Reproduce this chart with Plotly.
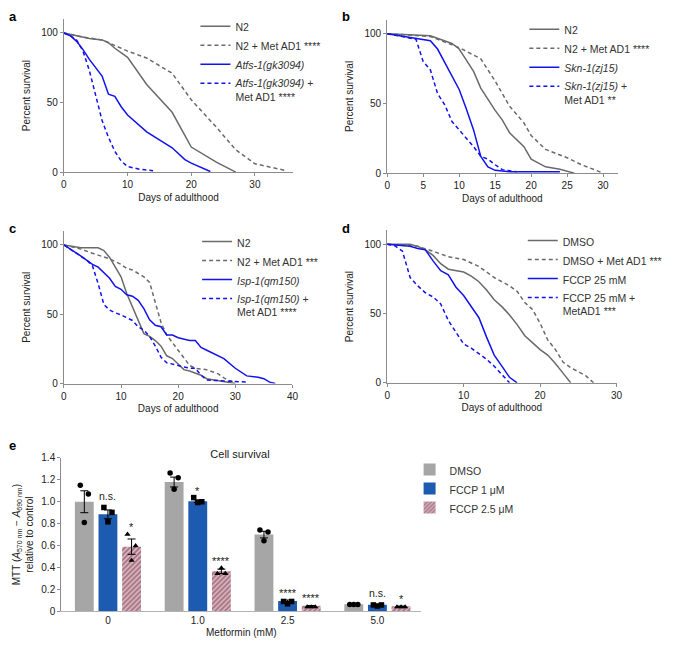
import plotly.graph_objects as go

FONT = "Liberation Sans, Arial, Helvetica, sans-serif"
GRAY = "#6a6a6a"
BLUE = "#1212ee"
AXIS = "#8c8c8c"
TXT = "#222222"
W, H = 685, 652

# ---------------- data: panel a ----------------
a_n2_days = [0, 2, 4, 6, 7, 8, 10, 13, 17, 20, 24, 27]
a_n2 = [100, 98, 96, 95, 93, 89, 82.5, 63, 43, 18, 7, 0]
a_n2met_days = [0, 3, 6, 7, 10, 13, 17, 20, 24, 27, 30, 35]
a_n2met = [100, 97, 95, 93, 87, 82, 71, 52, 32, 16, 6, 1]
a_atfs_days = [0, 1, 2, 3, 4, 5, 6, 7, 8, 9, 10, 13, 16, 17, 19, 20, 23]
a_atfs = [100, 98, 94, 88, 81, 75, 69, 56, 54.5, 47, 41, 29, 20, 17.5, 9, 6.5, 0.5]
a_atfsmet_days = [0, 1, 2, 3, 4, 5, 6, 7, 8, 9, 10, 11, 12, 14]
a_atfsmet = [100, 98, 95, 87, 73, 55, 37, 25, 15, 8, 4, 3, 2, 1]

# ---------------- data: panel b ----------------
b_n2_days = [0, 6, 9, 10, 11, 12, 13, 15, 16, 17, 19, 20, 22, 24, 26]
b_n2 = [100, 98.5, 93, 89, 81, 73, 61, 45, 38, 29, 19, 10, 4.5, 2.7, 0]
b_n2met_days = [0, 6, 9, 10, 13, 15, 17, 19, 20, 22, 25, 27, 30]
b_n2met = [100, 98, 92, 90, 82, 66, 48, 36, 27, 17, 11, 6, 0]
b_skn_days = [0, 4, 6, 7, 8, 9, 10, 11, 12, 13, 14, 15, 17, 24]
b_skn = [100, 97, 95, 89, 79, 70, 60, 46, 31, 12, 4.5, 2, 1, 1]
b_sknmet_days = [0, 4, 5, 6, 7, 8, 9, 10, 11, 12, 13, 14, 15, 16, 18]
b_sknmet = [100, 96, 80, 74, 57, 49, 37, 31, 25, 19, 12, 10, 6, 2.5, 1]

# ---------------- data: panel c ----------------
c_n2_days = [0, 3, 6, 7, 8, 10, 11, 12, 13, 14, 15, 16, 17, 18, 19, 20, 21, 22, 24, 25, 27, 30]
c_n2 = [100, 98, 98, 96, 91, 77, 65, 55, 45, 36, 34, 31, 27, 20, 18, 14, 10, 9, 6, 3.5, 2, 0]
c_n2met_days = [0, 3, 5, 8, 10, 11, 12, 14, 15, 16, 17, 18, 20, 21, 22, 23, 25, 27, 28, 29, 30]
c_n2met = [100, 97, 94, 90, 86, 83, 82, 77, 73, 58, 44, 35, 24, 18, 13, 11, 10, 7, 4, 2, 1]
c_isp_days = [0, 3, 5, 6, 8, 9, 10, 11, 12, 13, 14, 15, 16, 17, 18, 19, 20, 22, 23, 24, 25,
              27, 28, 30, 31, 32, 34, 35, 36, 37]
c_isp = [100, 92, 86, 84, 76, 70, 68, 64, 63, 60, 54, 46, 42, 41, 35, 35, 33, 31, 31, 26, 24,
         20, 18, 11, 8, 5.5, 4.5, 3.5, 1, 0]
c_ispmet_days = [0, 3, 4, 5, 6, 7, 8, 9, 10, 12, 13, 14, 15, 16, 17, 18, 20, 22, 23, 24, 25,
                 27, 30, 32]
c_ispmet = [100, 92, 89, 85, 72, 57, 53, 51, 49.5, 45.5, 41, 38.5, 34, 27, 19, 15, 13, 11, 11,
            6, 2.5, 2, 1, 1]

# ---------------- data: panel d ----------------
d_dmso_days = [0, 3, 4, 5, 6, 7, 8, 9, 10, 11, 12, 13, 14, 15, 16, 17, 18, 19, 20, 21, 22, 23, 24]
d_dmso = [100, 100, 98.5, 96, 92, 86, 82, 81, 80, 77, 73, 67, 60, 55, 49, 42, 34, 29, 24, 20, 14, 7, 0]
d_dmsomet_days = [0, 4, 6, 8, 10, 12, 14, 16, 17, 18, 19, 20, 21, 22, 23, 24, 25, 26, 27]
d_dmsomet = [100, 98.5, 95, 91, 89, 84, 76, 70, 66, 58, 53, 43, 31, 24, 15, 11, 8, 5, 0]
d_fccp_days = [0, 2, 3, 4, 5, 6, 7, 8, 9, 10, 11, 12, 13, 14, 15, 16, 17]
d_fccp = [100, 99, 98.5, 97, 96, 88, 81, 78, 69, 63, 55, 47, 33, 20, 12, 4, 0]
d_fccpmet_days = [0, 1, 2, 3, 4, 5, 6, 7, 8, 9, 10, 11, 12, 13, 14, 15, 16]
d_fccpmet = [100, 99, 95, 76, 70, 65, 62, 57, 45, 36, 28, 25, 21, 17, 12, 6, 0]

# ---------------- data: panel e ----------------
e_categories = ["0", "1.0", "2.5", "5.0"]
e_dmso = [1.0, 1.18, 0.70, 0.065]
e_dmso_err = [0.10, 0.045, 0.03, 0.003]
e_dmso_reps = [[1.15, 1.07, 0.81], [1.262, 1.22, 1.113], [0.742, 0.724, 0.643], [0.062, 0.062, 0.062]]
e_fccp1 = [0.885, 1.005, 0.095, 0.06]
e_fccp1_err = [0.04, 0.012, 0.008, 0.004]
e_fccp1_reps = [[0.948, 0.903, 0.817], [1.038, 1.0, 0.993], [0.09, 0.09, 0.069], [0.058, 0.058, 0.048]]
e_fccp25 = [0.59, 0.365, 0.05, 0.045]
e_fccp25_err = [0.07, 0.02, 0.003, 0.003]
e_fccp25_reps = [[0.703, 0.598, 0.464], [0.344, 0.344, 0.395], [0.04, 0.04, 0.04], [0.04, 0.04, 0.04]]
e_sig_fccp1 = ["n.s.", "*", "****", "n.s."]
e_sig_fccp25 = ["*", "****", "****", "*"]

fig = go.Figure()


def line(x, y, name, color, dash, n, grp):
    xa = "x" if n == 1 else f"x{n}"
    ya = "y" if n == 1 else f"y{n}"
    lg = "legend" if n == 1 else f"legend{n}"
    fig.add_trace(go.Scatter(
        x=x, y=y, name=name, mode="lines",
        line=dict(color=color, width=1.5, dash=dash),
        xaxis=xa, yaxis=ya, legend=lg, legendgroup=f"g{n}_{grp}",
        hoverinfo="skip"))


DASH = "4px,3px"
line(a_n2_days, a_n2, "N2", GRAY, "solid", 1, 1)
line(a_n2met_days, a_n2met, "N2 + Met AD1 ****", GRAY, DASH, 1, 2)
line(a_atfs_days, a_atfs, "<i>Atfs-1(gk3094)</i>", BLUE, "solid", 1, 3)
line(a_atfsmet_days, a_atfsmet, "<i>Atfs-1(gk3094)</i> +<br>Met AD1 ****", BLUE, DASH, 1, 4)

line(b_n2_days, b_n2, "N2", GRAY, "solid", 2, 1)
line(b_n2met_days, b_n2met, "N2 + Met AD1 ****", GRAY, DASH, 2, 2)
line(b_skn_days, b_skn, "<i>Skn-1(zj15)</i>", BLUE, "solid", 2, 3)
line(b_sknmet_days, b_sknmet, "<i>Skn-1(zj15)</i> +<br>Met AD1 **", BLUE, DASH, 2, 4)

line(c_n2_days, c_n2, "N2", GRAY, "solid", 3, 1)
line(c_n2met_days, c_n2met, "N2 + Met AD1 ***", GRAY, DASH, 3, 2)
line(c_isp_days, c_isp, "<i>Isp-1(qm150)</i>", BLUE, "solid", 3, 3)
line(c_ispmet_days, c_ispmet, "<i>Isp-1(qm150)</i> +<br>Met AD1 ****", BLUE, DASH, 3, 4)

line(d_dmso_days, d_dmso, "DMSO", GRAY, "solid", 4, 1)
line(d_dmsomet_days, d_dmsomet, "DMSO + Met AD1 ***", GRAY, DASH, 4, 2)
line(d_fccp_days, d_fccp, "FCCP 25 mM", BLUE, "solid", 4, 3)
line(d_fccpmet_days, d_fccpmet, "FCCP 25 mM +<br>MetAD1 ***", BLUE, DASH, 4, 4)

# ---------------- panel e bars ----------------
BAR_W = 0.21
CENTERS = [-0.263, 0.0, 0.263]
JIT = [-0.045, 0.045, 0.0]
cat_x = list(range(len(e_categories)))
bar_specs = [
    ("DMSO", e_dmso, e_dmso_err, e_dmso_reps, "circle",
     dict(color="#a6a6a6")),
    ("FCCP 1 μM", e_fccp1, e_fccp1_err, e_fccp1_reps, "square",
     dict(color="#1c5bb0")),
    ("FCCP 2.5 μM", e_fccp25, e_fccp25_err, e_fccp25_reps, "triangle-up",
     dict(color="#f0b6c8", pattern=dict(shape="/", fgcolor="#2e2e2e", bgcolor="#f0b6c8",
                                       size=3.5, solidity=0.5))),
]
for k, (name, vals, errs, reps, sym, mk) in enumerate(bar_specs):
    fig.add_trace(go.Bar(
        x=cat_x, y=vals, name=name, width=BAR_W, offset=CENTERS[k] - BAR_W / 2,
        marker=dict(line=dict(width=0), **mk),
        error_y=dict(type="data", array=errs, color="black", thickness=1, width=4),
        xaxis="x5", yaxis="y5", legend="legend5", legendgroup=f"e{k}", hoverinfo="skip"))
for k, (name, vals, errs, reps, sym, mk) in enumerate(bar_specs):
    px, py = [], []
    for i, r in enumerate(reps):
        for j, v in enumerate(r):
            px.append(cat_x[i] + CENTERS[k] + JIT[j])
            py.append(v)
    fig.add_trace(go.Scatter(
        x=px, y=py, mode="markers", showlegend=False,
        marker=dict(symbol=sym, size=5.5, color="black"),
        xaxis="x5", yaxis="y5", legend="legend5", legendgroup="e2",
        hoverinfo="skip", cliponaxis=False))

annotations = []
for k, (sigs, vals, errs, reps) in enumerate([
        (e_sig_fccp1, e_fccp1, e_fccp1_err, e_fccp1_reps),
        (e_sig_fccp25, e_fccp25, e_fccp25_err, e_fccp25_reps)], start=1):
    for i, s in enumerate(sigs):
        top = max(vals[i] + errs[i], max(reps[i]))
        is_ns = s.startswith("n")
        annotations.append(dict(
            x=cat_x[i] + CENTERS[k], y=top, xref="x5", yref="y5", text=s,
            showarrow=False, yanchor="bottom", xanchor="center",
            yshift=3 if is_ns else -1,
            font=dict(size=10.5 if is_ns else 11, color=TXT, family=FONT)))

# panel letters
for letter, lx, ly in [("a", 4, 12), ("b", 341, 12), ("c", 4, 227), ("d", 341, 227), ("e", 4, 448)]:
    annotations.append(dict(x=lx / W, y=1 - ly / H, xref="paper", yref="paper", text=f"<b>{letter}</b>",
                            showarrow=False, xanchor="left", yanchor="middle",
                            font=dict(size=13, color="black", family=FONT)))


def xdom(l, r):
    return [l / W, r / W]


def ydom(t, b):
    return [1 - b / H, 1 - t / H]


axis_common = dict(showline=True, linecolor=AXIS, linewidth=1, ticks="outside", ticklen=3,
                   tickcolor=AXIS, tickwidth=1, showgrid=False, zeroline=False,
                   tickfont=dict(size=10, color=TXT, family=FONT), fixedrange=True)
title_font = dict(size=10, color=TXT, family=FONT)


def xax(dom, anchor, rng, tv):
    return dict(domain=dom, anchor=anchor, range=rng, tickvals=tv,
                title=dict(text="Days of adulthood", font=title_font, standoff=4), **axis_common)


def yax(dom, anchor):
    return dict(domain=dom, anchor=anchor, range=[0, 110], tickvals=[0, 50, 100],
                title=dict(text="Percent survival", font=title_font, standoff=8), **axis_common)


legend_common = dict(font=dict(size=10.5, color="#333333", family=FONT), bgcolor="rgba(0,0,0,0)",
                     xanchor="left", yanchor="top", tracegroupgap=3, valign="top",
                     traceorder="normal")

fig.update_layout(
    width=W, height=H, margin=dict(l=0, r=0, t=0, b=0),
    paper_bgcolor="white", plot_bgcolor="white",
    font=dict(family=FONT, color=TXT),
    barmode="overlay",
    xaxis=xax(xdom(61.7, 294), "y", [0, 36], [0, 10, 20, 30]),
    yaxis=yax(ydom(14.3, 170), "x"),
    xaxis2=xax(xdom(389.3, 622.7), "y2", [0, 32], [0, 5, 10, 15, 20, 25, 30]),
    yaxis2=yax(ydom(15, 171), "x2"),
    xaxis3=xax(xdom(61.7, 293.3), "y3", [0, 40], [0, 10, 20, 30, 40]),
    yaxis3=yax(ydom(230, 385), "x3"),
    xaxis4=xax(xdom(389.3, 621.7), "y4", [0, 30], [0, 10, 20, 30]),
    yaxis4=yax(ydom(229.3, 384.3), "x4"),
    xaxis5=dict(domain=xdom(59, 424), anchor="y5", range=[-0.52, 3.49],
                tickvals=cat_x, ticktext=e_categories, showline=True, linecolor="#b4b4b4",
                ticks="", showgrid=False, zeroline=False, fixedrange=True,
                tickfont=dict(size=10, color=TXT, family=FONT),
                title=dict(text="Metformin (mM)", font=title_font, standoff=3)),
    yaxis5=dict(domain=ydom(460.7, 616.7), anchor="x5", range=[0, 1.4],
                tickvals=[0, 0.2, 0.4, 0.6, 0.8, 1.0, 1.2, 1.4],
                ticktext=["0", "0.2", "0.4", "0.6", "0.8", "1.0", "1.2", "1.4"],
                title=dict(text="MTT (<i>A</i><sub>570 nm</sub> − <i>A</i><sub>690 nm</sub>)<br>relative to control",
                           font=title_font, standoff=5),
                **axis_common),
    legend=dict(x=195 / W, y=1 - 8 / H, **{**legend_common, "tracegroupgap": 4}),
    legend2=dict(x=528.3 / W, y=1 - 11 / H, **{**legend_common, "tracegroupgap": 4}),
    legend3=dict(x=196.7 / W, y=1 - 227 / H, **{**legend_common, "tracegroupgap": 5}),
    legend4=dict(x=526.7 / W, y=1 - 226 / H, **{**legend_common, "tracegroupgap": 4}),
    legend5=dict(x=412 / W, y=1 - 459 / H, **{**legend_common, "tracegroupgap": 7}),
    title=dict(text="Cell survival", x=240 / W, y=1 - 454 / H, xanchor="center", yanchor="middle",
               font=dict(size=11, color=TXT, family=FONT)),
    annotations=annotations,
    showlegend=True,
)

fig.write_html("out.html", config={"displayModeBar": False},
               post_script="document.body.style.margin='0';document.body.style.padding='0';")
